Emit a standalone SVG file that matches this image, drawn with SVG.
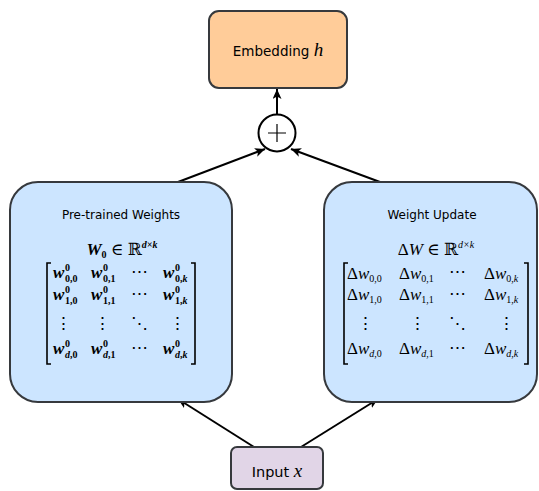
<svg xmlns="http://www.w3.org/2000/svg" width="539" height="491" viewBox="0 0 539 491">
<defs>
<marker id="arr" markerUnits="userSpaceOnUse" markerWidth="12" markerHeight="10" refX="10" refY="4.5" orient="auto">
<path d="M0,0 L10,4.5 L0,9 L2.5,4.5 z" fill="#000"/>
</marker>
</defs>
<style>
.box{stroke:#36393d;stroke-width:2}
.lbl{font-family:"DejaVu Sans",Verdana,sans-serif;fill:#000}
.m{font-family:"Liberation Serif","DejaVu Serif",serif;font-size:17px;fill:#000}
.bi{font-weight:bold;font-style:italic}
.it{font-style:italic}
.s{font-size:10px}
.sb{font-size:10px;font-weight:bold}
.br{fill:none;stroke:#000;stroke-width:1.6}
.edge{stroke:#000;stroke-width:2;fill:none;marker-end:url(#arr)}
</style>
<g id="connectors">
<line class="edge" x1="277" y1="115" x2="277" y2="89"/>
<line class="edge" x1="178" y1="182" x2="265" y2="149"/>
<line class="edge" x1="380" y1="182" x2="291" y2="149"/>
<line class="edge" x1="254" y1="447" x2="178" y2="399"/>
<line class="edge" x1="301" y1="447" x2="378" y2="399"/>
</g>
<g id="embedding">
<rect class="box" x="209" y="11" width="138" height="77" rx="10" fill="#ffcc99"/>
<text class="lbl" x="278" y="56" font-size="13.5" text-anchor="middle">Embedding <tspan font-family="Liberation Serif,DejaVu Serif,serif" font-style="italic" font-size="19">h</tspan></text>
</g>
<g id="plus">
<circle cx="277" cy="133" r="18.5" fill="#fff" stroke="#000" stroke-width="2"/>
<path d="M268,133 H286 M277,124 V142" stroke="#000" stroke-width="1.2"/>
</g>
<g id="pretrained">
<rect class="box" x="10" y="182" width="222" height="220" rx="28" fill="#cce5ff"/>
<text class="lbl" x="121" y="219" font-size="12" text-anchor="middle">Pre-trained Weights</text>
<text class="m" x="122" y="255" text-anchor="middle"><tspan class="bi">W</tspan><tspan class="sb" dy="3">0</tspan><tspan dy="-3"> ∈ ℝ</tspan><tspan class="s bi" dy="-7">d×k</tspan></text>
<path class="br" d="M51,263 H47 V364 H51 M191,263 H195 V364 H191"/>
<g class="m">
<text x="53" y="278" class="bi">w</text><text class="sb" x="65" y="271">0</text><text class="sb" x="65" y="282">0,0</text>
<text x="91" y="278" class="bi">w</text><text class="sb" x="103" y="271">0</text><text class="sb" x="103" y="282">0,1</text>
<text x="139" y="277" text-anchor="middle">⋯</text>
<text x="163" y="278" class="bi">w</text><text class="sb" x="175" y="271">0</text><text class="sb" x="175" y="282">0,<tspan font-style="italic">k</tspan></text>
<text x="53" y="300" class="bi">w</text><text class="sb" x="65" y="293">0</text><text class="sb" x="65" y="304">1,0</text>
<text x="91" y="300" class="bi">w</text><text class="sb" x="103" y="293">0</text><text class="sb" x="103" y="304">1,1</text>
<text x="139" y="299" text-anchor="middle">⋯</text>
<text x="163" y="300" class="bi">w</text><text class="sb" x="175" y="293">0</text><text class="sb" x="175" y="304">1,<tspan font-style="italic">k</tspan></text>
<text x="63" y="329" text-anchor="middle">⋮</text>
<text x="102" y="329" text-anchor="middle">⋮</text>
<text x="139" y="329" text-anchor="middle">⋱</text>
<text x="177" y="329" text-anchor="middle">⋮</text>
<text x="53" y="354" class="bi">w</text><text class="sb" x="65" y="347">0</text><text class="sb" x="65" y="358"><tspan font-style="italic">d</tspan>,0</text>
<text x="91" y="354" class="bi">w</text><text class="sb" x="103" y="347">0</text><text class="sb" x="103" y="358"><tspan font-style="italic">d</tspan>,1</text>
<text x="139" y="353" text-anchor="middle">⋯</text>
<text x="163" y="354" class="bi">w</text><text class="sb" x="175" y="347">0</text><text class="sb" x="175" y="358"><tspan font-style="italic">d</tspan>,<tspan font-style="italic">k</tspan></text>
</g>
</g>
<g id="update">
<rect class="box" x="324" y="182" width="213" height="220" rx="28" fill="#cce5ff"/>
<text class="lbl" x="432" y="219" font-size="12" text-anchor="middle">Weight Update</text>
<text class="m" x="436" y="255" text-anchor="middle">Δ<tspan class="it">W</tspan> ∈ ℝ<tspan class="s it" dy="-7">d×k</tspan></text>
<path class="br" d="M348,263 H344 V364 H348 M524,263 H528 V364 H524"/>
<g class="m">
<text x="347" y="279">Δ<tspan class="it">w</tspan><tspan class="s" dy="3">0,0</tspan></text>
<text x="399" y="279">Δ<tspan class="it">w</tspan><tspan class="s" dy="3">0,1</tspan></text>
<text x="457" y="277" text-anchor="middle">⋯</text>
<text x="484" y="279">Δ<tspan class="it">w</tspan><tspan class="s" dy="3">0,<tspan class="it">k</tspan></tspan></text>
<text x="347" y="300">Δ<tspan class="it">w</tspan><tspan class="s" dy="3">1,0</tspan></text>
<text x="399" y="300">Δ<tspan class="it">w</tspan><tspan class="s" dy="3">1,1</tspan></text>
<text x="457" y="299" text-anchor="middle">⋯</text>
<text x="484" y="300">Δ<tspan class="it">w</tspan><tspan class="s" dy="3">1,<tspan class="it">k</tspan></tspan></text>
<text x="365" y="329" text-anchor="middle">⋮</text>
<text x="417" y="329" text-anchor="middle">⋮</text>
<text x="457" y="329" text-anchor="middle">⋱</text>
<text x="506" y="329" text-anchor="middle">⋮</text>
<text x="347" y="354">Δ<tspan class="it">w</tspan><tspan class="s" dy="3"><tspan class="it">d</tspan>,0</tspan></text>
<text x="399" y="354">Δ<tspan class="it">w</tspan><tspan class="s" dy="3"><tspan class="it">d</tspan>,1</tspan></text>
<text x="457" y="353" text-anchor="middle">⋯</text>
<text x="484" y="354">Δ<tspan class="it">w</tspan><tspan class="s" dy="3"><tspan class="it">d</tspan>,<tspan class="it">k</tspan></tspan></text>
</g>
</g>
<g id="input">
<rect class="box" x="231" y="447" width="92" height="42" rx="6" fill="#e1d5e7"/>
<text class="lbl" x="277" y="477" font-size="14.5" text-anchor="middle">Input <tspan font-family="Liberation Serif,DejaVu Serif,serif" font-style="italic" font-size="19">x</tspan></text>
</g>
</svg>
